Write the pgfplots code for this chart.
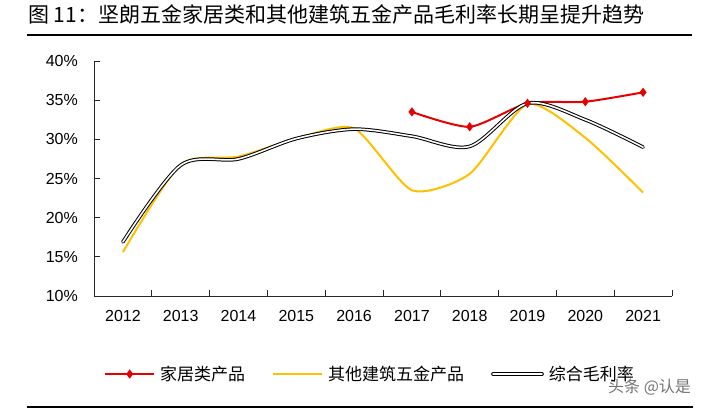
\documentclass[border=0pt]{standalone}
\usepackage{fontspec}
\setmainfont{Liberation Sans}
\newfontfamily\cjk{Noto Sans CJK SC}
\usepackage{pgfplots}
\pgfplotsset{compat=1.18}
\definecolor{cred}{RGB}{230,0,0}
\definecolor{cyel}{RGB}{255,192,0}
\begin{document}
\begin{tikzpicture}
\path[use as bounding box] (0pt,0pt) rectangle (714pt,-412pt);
\node[anchor=base west, inner sep=0pt, font=\cjk\fontsize{21}{21}\selectfont] at (28pt,-23pt) {图 11：坚朗五金家居类和其他建筑五金产品毛利率长期呈提升趋势};
\draw[line width=2pt] (27pt,-35pt) -- (692pt,-35pt);
\draw[line width=2pt] (27pt,-407pt) -- (693pt,-407pt);
\node[anchor=west, inner sep=0pt, text=black!55, font=\cjk\fontsize{16}{16}\selectfont] at (608pt,-387pt) {头条 @认是};
\begin{axis}[
  at={(94pt,-296pt)}, anchor=south west,
  scale only axis, width=578pt, height=235pt,
  xmin=-0.5, xmax=9.5, ymin=10, ymax=40,
  axis lines=left,
  axis line style={-, line width=0.8pt, black!85},
  tick align=inside,
  xtick={0,...,9},
  xticklabels={2012,2013,2014,2015,2016,2017,2018,2019,2020,2021},
  major x tick style={draw=none},
  minor xtick={-0.5,0.5,...,9.5},
  minor tick length=6pt,
  major tick length=6pt,
  minor x tick style={black!85, line width=0.8pt},
  ytick={10,15,...,40},
  y tick style={black!85, line width=0.8pt},
  yticklabel={\pgfmathprintnumber{\tick}\%},
  /pgf/number format/assume math mode=true,
  ticklabel style={font=\fontsize{16}{16}\selectfont},
  xticklabel style={anchor=center, inner sep=0pt, yshift=-20pt},
  yticklabel style={anchor=east, inner sep=0pt, xshift=-16pt},
  legend columns=3,
  legend cell align=left,
  legend image code/.code={\draw[mark repeat=2,mark phase=2,#1] plot coordinates {(0pt,0pt) (24.5pt,0pt) (49pt,0pt)};},
  legend style={draw=none, fill=none, at={(axis description cs:0.0173,-0.332)}, anchor=west, inner sep=0pt,
    font=\cjk\fontsize{17}{17}\selectfont,
    nodes={inner sep=0pt},
    /tikz/every odd column/.append style={column sep=5pt},
    /tikz/every even column/.append style={column sep=27pt}},
]
\addplot[cred, line width=2pt, smooth, tension=0.4, mark=diamond*, mark size=3pt, mark options={solid}]
  coordinates {(5,33.5) (6,31.6) (7,34.6) (8,34.8) (9,36.0)};
\addlegendentry{家居类产品}
\addplot[cyel, line width=2pt, smooth, tension=0.4]
  coordinates {(0,15.6) (1,26.8) (2,27.8) (3,30.1) (4,31.4) (5,23.5) (6,25.6) (7,34.5) (8,30.2) (9,23.2)};
\addlegendentry{其他建筑五金产品}
\addplot[black, line width=1pt, double=white, double distance=1.6pt, line cap=round, smooth, tension=0.5]
  coordinates {(0,16.9) (1,26.7) (2,27.5) (3,30.1) (4,31.3) (5,30.4) (6,29.1) (7,34.6) (8,32.5) (9,29.0)};
\addlegendentry{综合毛利率}
\end{axis}
\end{tikzpicture}
\end{document}
